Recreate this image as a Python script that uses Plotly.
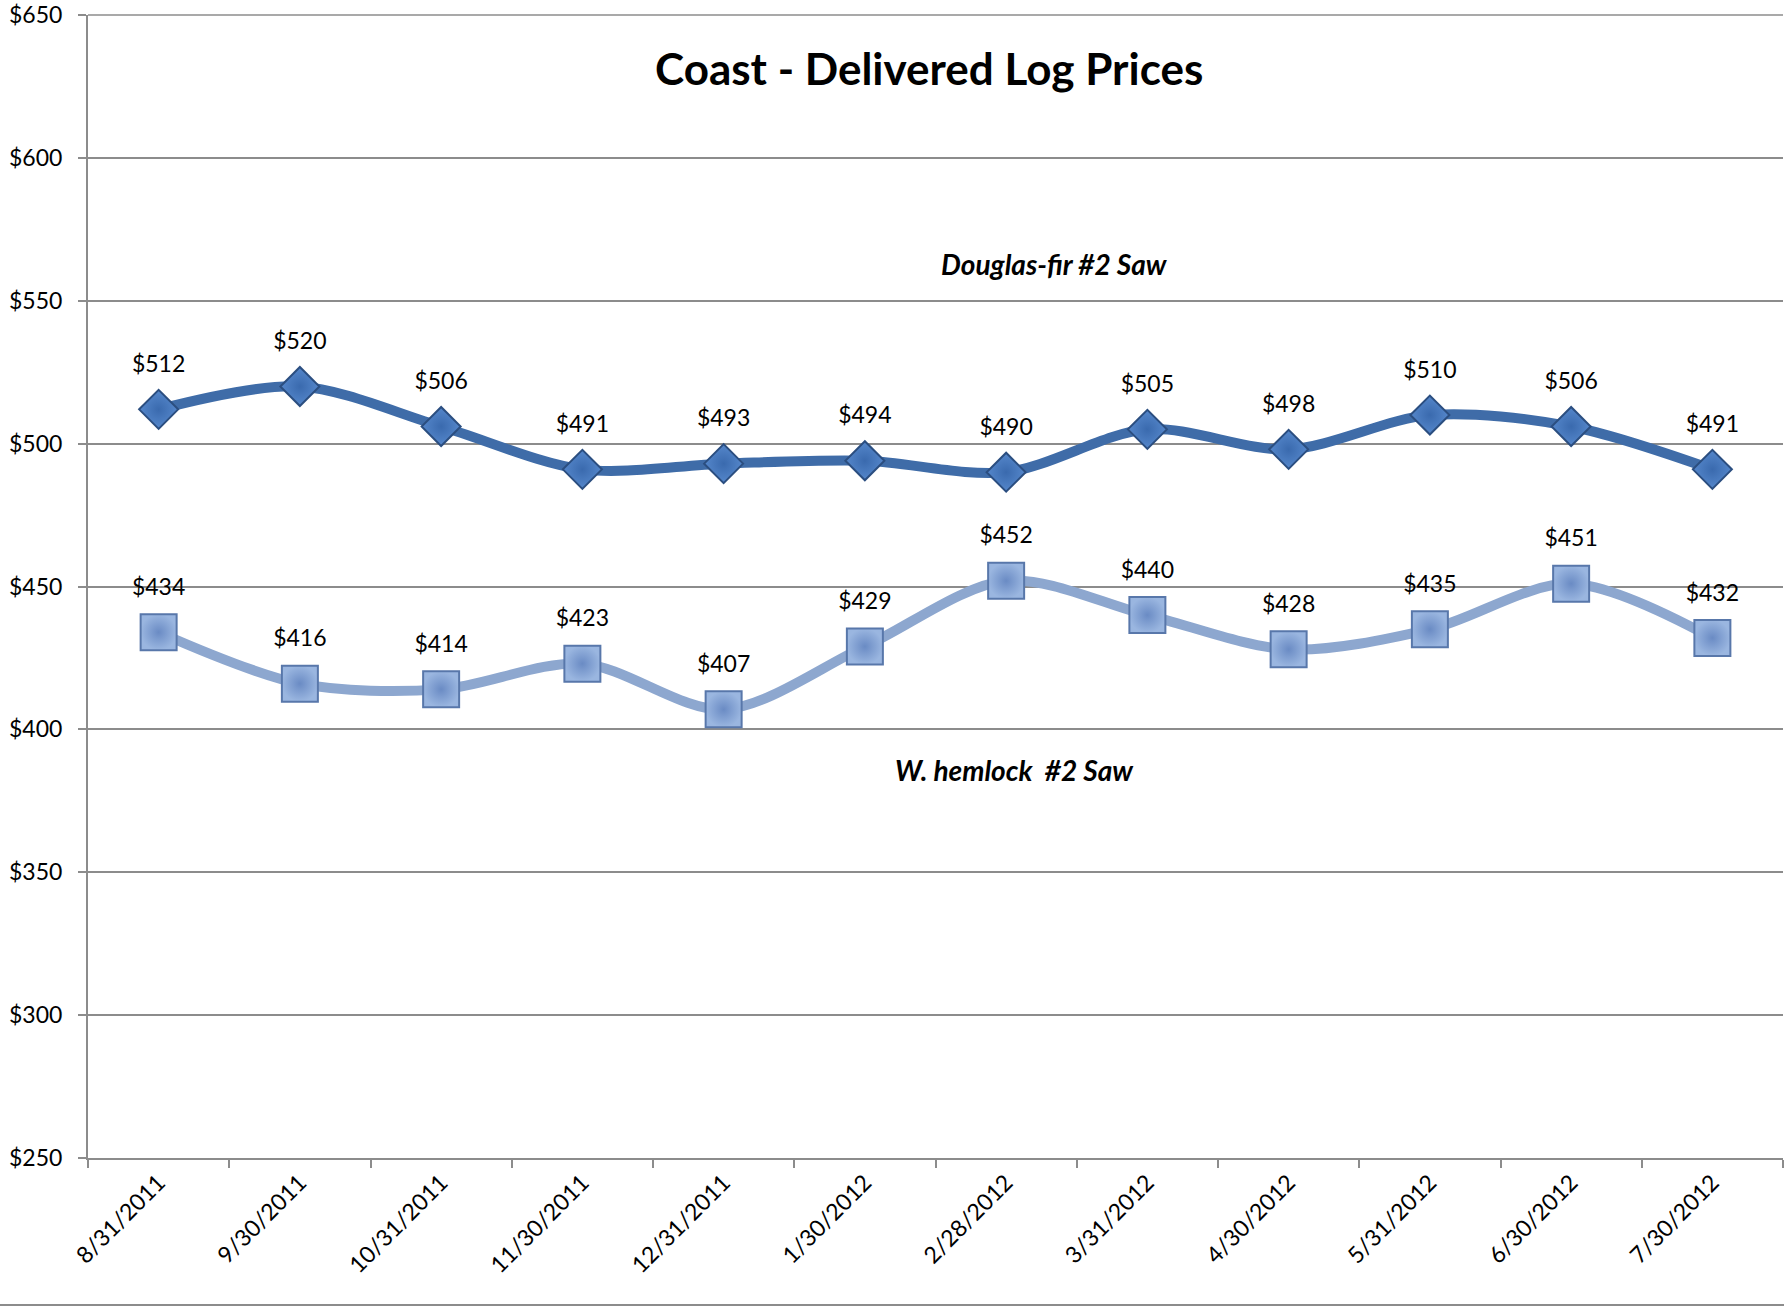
import plotly.graph_objects as go

dates = ["8/31/2011", "9/30/2011", "10/31/2011", "11/30/2011", "12/31/2011", "1/30/2012",
         "2/28/2012", "3/31/2012", "4/30/2012", "5/31/2012", "6/30/2012", "7/30/2012"]
douglas_fir = [512, 520, 506, 491, 493, 494, 490, 505, 498, 510, 506, 491]
w_hemlock = [434, 416, 414, 423, 407, 429, 452, 440, 428, 435, 451, 432]
y_ticks = [250, 300, 350, 400, 450, 500, 550, 600, 650]
y_tick_labels = ["$" + str(v) for v in y_ticks]

FONT = "Lato"
GRID = "#8C8C8C"
W, H = 1784, 1307
ML, MR, MT, MB = 88, 1, 15, 149
PW, PH = W - ML - MR, H - MT - MB

fig = go.Figure()
fig.add_trace(go.Scatter(
    x=dates, y=w_hemlock, mode="lines+markers",
    line=dict(color="#8DA7CF", width=10, shape="spline", smoothing=0.9),
    marker=dict(symbol="square", size=36, color="#9AB6E0",
                line=dict(color="#5877AA", width=2),
                gradient=dict(type="radial", color="#6A8BC4")),
    name="W. hemlock #2 Saw", showlegend=False, cliponaxis=False,
))
fig.add_trace(go.Scatter(
    x=dates, y=douglas_fir, mode="lines+markers",
    line=dict(color="#3F6CA8", width=10, shape="spline", smoothing=0.9),
    marker=dict(symbol="diamond", size=30, color="#5587CB",
                line=dict(color="#2B4E80", width=2),
                gradient=dict(type="radial", color="#3A6AAE")),
    name="Douglas-fir #2 Saw", showlegend=False, cliponaxis=False,
))
# data labels (invisible spacer markers push labels up)
for vals, sz in ((w_hemlock, 49), (douglas_fir, 49)):
    fig.add_trace(go.Scatter(
        x=dates, y=vals, mode="markers+text",
        marker=dict(size=sz, opacity=0),
        text=["$" + str(v) for v in vals], textposition="top center",
        textfont=dict(family=FONT, size=23, color="black"),
        showlegend=False, hoverinfo="skip", cliponaxis=False,
    ))

def px_x(x):
    return (x - ML) / PW

def px_y(y):
    return 1 - (y - MT) / PH

fig.update_layout(
    width=W, height=H,
    margin=dict(l=ML, r=MR, t=MT, b=MB, autoexpand=False),
    paper_bgcolor="white", plot_bgcolor="white",
    font=dict(family=FONT, size=23, color="black"),
    xaxis=dict(type="category", tickson="boundaries", ticks="outside", ticklen=8,
               tickcolor=GRID, tickwidth=2, showgrid=False,
               showline=True, linecolor=GRID, linewidth=2,
               tickangle=-45, tickfont=dict(family=FONT, size=23),
               range=[-0.5, 11.5], automargin=False),
    yaxis=dict(range=[250, 650], tickmode="array", tickvals=y_ticks, ticktext=y_tick_labels,
               ticks="outside", ticklen=8, tickcolor=GRID, tickwidth=2,
               showgrid=True, gridcolor=GRID, gridwidth=1.5,
               showline=True, linecolor=GRID, linewidth=2,
               zeroline=False, tickfont=dict(family=FONT, size=23),
               ticklabelstandoff=11, ticklabeloverflow="allow", automargin=False),
    annotations=[
        dict(text="<b>Coast - Delivered Log Prices</b>", xref="paper", yref="paper",
             x=px_x(929), y=px_y(68), xanchor="center", yanchor="middle", showarrow=False,
             font=dict(family=FONT, size=44, color="black")),
        dict(text="<b><i>Douglas-fir #2 Saw</i></b>", xref="paper", yref="paper",
             x=px_x(1054), y=px_y(264), xanchor="center", yanchor="middle", showarrow=False,
             font=dict(family=FONT, size=28, color="black")),
        dict(text="<b><i>W. hemlock  #2 Saw</i></b>", xref="paper", yref="paper",
             x=px_x(1014), y=px_y(770), xanchor="center", yanchor="middle", showarrow=False,
             font=dict(family=FONT, size=28, color="black")),
    ],
    shapes=[
        # top gridline at the upper edge of the plot area
        dict(type="line", xref="paper", yref="paper", layer="below",
             x0=0, x1=1, y0=1, y1=1, line=dict(color=GRID, width=1.5)),
        # outer chart border at the bottom
        dict(type="line", xref="paper", yref="paper",
             x0=px_x(0), x1=px_x(W), y0=px_y(1305), y1=px_y(1305),
             line=dict(color=GRID, width=2)),
    ],
)

fig.write_html("out.html", config={"displayModeBar": False},
               post_script="document.body.style.margin='0';")
